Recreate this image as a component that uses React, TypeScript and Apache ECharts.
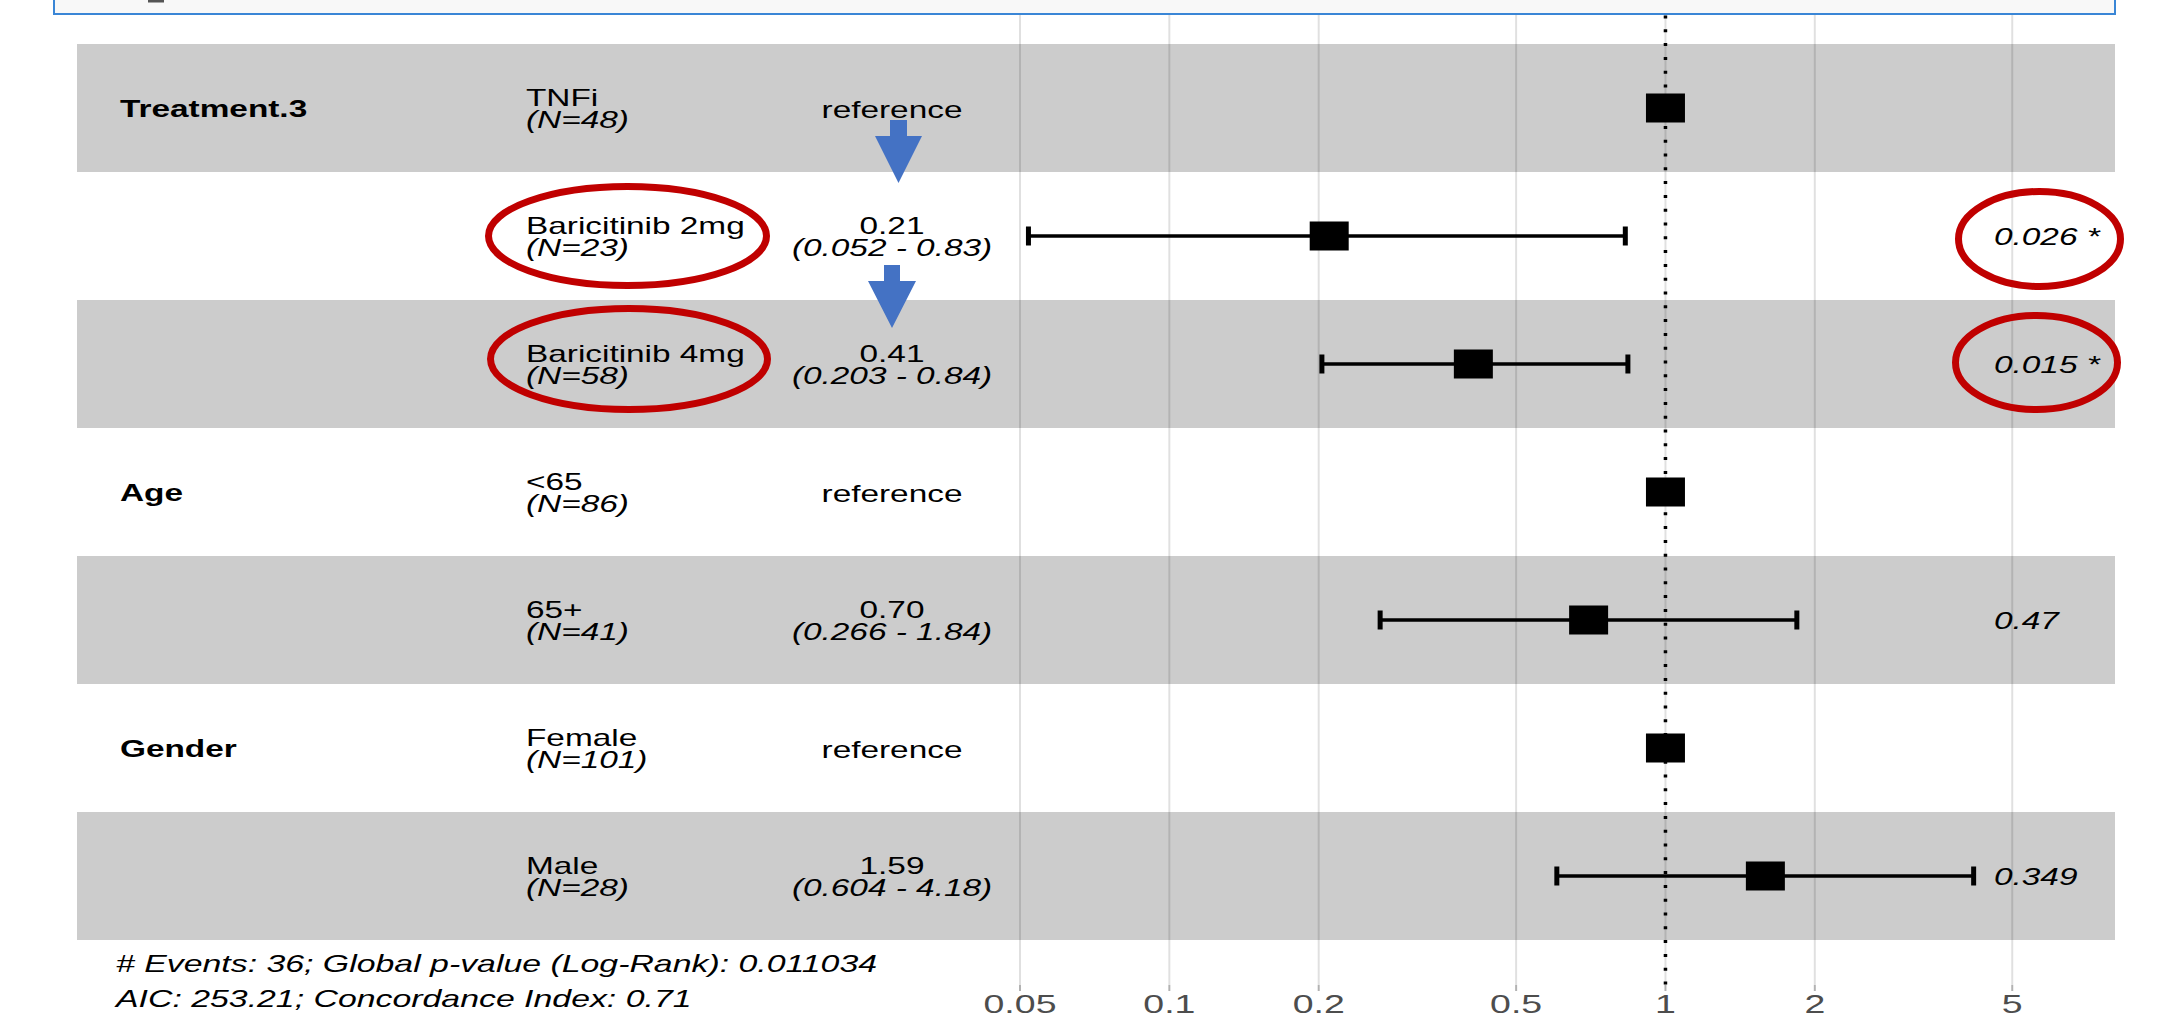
import React, { useEffect, useRef } from "react";
import * as echarts from "echarts";

// ---------- data ----------
const ROW_IDS = ["r1", "r2", "r3", "r4", "r5", "r6", "r7"];
const VAR_NAMES = ["Treatment.3", "", "", "Age", "", "Gender", ""];
const LEVELS = ["TNFi", "Baricitinib 2mg", "Baricitinib 4mg", "<65", "65+", "Female", "Male"];
const N_LABELS = ["(N=48)", "(N=23)", "(N=58)", "(N=86)", "(N=41)", "(N=101)", "(N=28)"];
const HR = [1, 0.21, 0.41, 1, 0.7, 1, 1.59];
const CI_LOW: (number | null)[] = [null, 0.052, 0.203, null, 0.266, null, 0.604];
const CI_HIGH: (number | null)[] = [null, 0.83, 0.84, null, 1.84, null, 4.18];
const HR_TEXT = ["reference", "0.21", "0.41", "reference", "0.70", "reference", "1.59"];
const CI_TEXT = ["", "(0.052 - 0.83)", "(0.203 - 0.84)", "", "(0.266 - 1.84)", "", "(0.604 - 4.18)"];
const P_TEXT = ["", "0.026 *", "0.015 *", "", "0.47", "", "0.349"];
const X_TICKS = [0.05, 0.1, 0.2, 0.5, 1, 2, 5];
const X_TICK_LABELS = ["0.05", "0.1", "0.2", "0.5", "1", "2", "5"];
const FOOTER = [
  "# Events: 36; Global p-value (Log-Rank): 0.011034",
  "AIC: 253.21; Concordance Index: 0.71",
];

// ---------- layout / style ----------
const SX = 1.39;
const FONT = "Liberation Sans";
const BAND_LEFT = 77;
const BAND_RIGHT = 2115;
const COL_VAR = 120;
const COL_LEVEL = 526;
const COL_HR = 892;
const COL_P = 1994;
const LINE_TOP = 1.7;
const PANEL_BOTTOM = 985;
const TICK_BOTTOM = 991;
const LABEL_Y = 1004;

function txt(
  x: number,
  y: number,
  text: string,
  opts: { size?: number; bold?: boolean; italic?: boolean; align?: string; color?: string; z?: number; sx?: number } = {}
) {
  const align = opts.align || "left";
  return {
    type: "text",
    x,
    y,
    scaleX: opts.sx || SX,
    scaleY: 1,
    z: opts.z,
    style: {
      text,
      fill: opts.color || "#000",
      fontFamily: FONT,
      fontSize: opts.size || 24,
      fontWeight: opts.bold ? "bold" : "normal",
      fontStyle: opts.italic ? "italic" : "normal",
      align,
      verticalAlign: "middle",
      textAlign: align,
      textVerticalAlign: "middle",
    },
  };
}

export default function App() {
  const ref = useRef<HTMLDivElement>(null);

  useEffect(() => {
    if (!ref.current) return;
    const chart = echarts.init(ref.current, undefined, { renderer: "svg" });

    const rowData = ROW_IDS.map((_, i) => [1, i]);
    const errData: number[][] = [];
    HR.forEach((_, i) => {
      if (CI_LOW[i] != null && CI_HIGH[i] != null) errData.push([CI_LOW[i] as number, i, CI_HIGH[i] as number]);
    });

    const option: any = {
      animation: false,
      backgroundColor: "#ffffff",
      grid: { left: 1020, right: 46.5, top: 44, bottom: 80, containLabel: false },
      xAxis: {
        type: "log",
        logBase: 10,
        min: 0.05,
        max: 8,
        show: false,
      },
      yAxis: {
        type: "category",
        data: ROW_IDS,
        inverse: true,
        show: false,
      },
      series: [
        {
          name: "bands",
          type: "custom",
          z: 1,
          silent: true,
          clip: false,
          data: rowData,
          renderItem: (params: any, api: any) => {
            const i = api.value(1);
            const y = api.coord([1, i])[1];
            const h = api.size([0, 1])[1];
            if (i % 2 !== 0) return { type: "group", children: [] };
            return {
              type: "rect",
              shape: { x: BAND_LEFT, y: y - h / 2, width: BAND_RIGHT - BAND_LEFT, height: h },
              style: { fill: "#cccccc" },
            };
          },
        },
        {
          name: "gridlines",
          type: "custom",
          z: 2,
          silent: true,
          clip: false,
          data: X_TICKS.map((v, k) => [v, 0, k]),
          renderItem: (params: any, api: any) => {
            const x = api.coord([api.value(0), 0])[0];
            const k = api.value(2);
            return {
              type: "group",
              children: [
                {
                  type: "line",
                  shape: { x1: x, y1: 0, x2: x, y2: PANEL_BOTTOM },
                  style: { stroke: "rgba(0,0,0,0.12)", lineWidth: 2 },
                },
                {
                  type: "line",
                  shape: { x1: x, y1: PANEL_BOTTOM, x2: x, y2: TICK_BOTTOM },
                  style: { stroke: "rgba(0,0,0,0.3)", lineWidth: 2 },
                },
                txt(x, LABEL_Y, X_TICK_LABELS[k], { size: 25, align: "center", color: "#4d4d4d", sx: 1.5 }),
              ],
            };
          },
        },
        {
          name: "errorbars",
          type: "custom",
          z: 3,
          silent: true,
          clip: false,
          data: errData,
          renderItem: (params: any, api: any) => {
            const p1 = api.coord([api.value(0), api.value(1)]);
            const p2 = api.coord([api.value(2), api.value(1)]);
            const y = p1[1];
            return {
              type: "group",
              children: [
                { type: "line", shape: { x1: p1[0], y1: y, x2: p2[0], y2: y }, style: { stroke: "#000", lineWidth: 3.5 } },
                { type: "line", shape: { x1: p1[0], y1: y - 9.5, x2: p1[0], y2: y + 9.5 }, style: { stroke: "#000", lineWidth: 5 } },
                { type: "line", shape: { x1: p2[0], y1: y - 9.5, x2: p2[0], y2: y + 9.5 }, style: { stroke: "#000", lineWidth: 5 } },
              ],
            };
          },
        },
        {
          name: "refline",
          type: "custom",
          z: 4,
          silent: true,
          clip: false,
          data: [[1, 0]],
          renderItem: (params: any, api: any) => {
            const x = api.coord([api.value(0), 0])[0];
            return {
              type: "line",
              shape: { x1: x, y1: LINE_TOP, x2: x, y2: PANEL_BOTTOM },
              style: { stroke: "#000", lineWidth: 3.5, lineDash: [3, 10.8], lineCap: "butt" },
            };
          },
        },
        {
          name: "hr",
          type: "scatter",
          z: 5,
          silent: true,
          symbol: "rect",
          symbolSize: [39, 29],
          itemStyle: { color: "#000", opacity: 1 },
          data: HR.map((v, i) => [v, i]),
        },
        {
          name: "table",
          type: "custom",
          z: 6,
          silent: true,
          clip: false,
          data: rowData,
          renderItem: (params: any, api: any) => {
            const i = api.value(1);
            const y = api.coord([1, i])[1];
            const children: any[] = [];
            if (VAR_NAMES[i]) children.push(txt(COL_VAR, y + 1, VAR_NAMES[i], { bold: true }));
            children.push(txt(COL_LEVEL, y - 10.5, LEVELS[i]));
            children.push(txt(COL_LEVEL, y + 12, N_LABELS[i], { italic: true }));
            if (CI_TEXT[i]) {
              children.push(txt(COL_HR, y - 10.5, HR_TEXT[i], { align: "center" }));
              children.push(txt(COL_HR, y + 12, CI_TEXT[i], { italic: true, align: "center" }));
            } else {
              children.push(txt(COL_HR, y + 1.5, HR_TEXT[i], { align: "center" }));
            }
            if (P_TEXT[i]) children.push(txt(COL_P, y + 1, P_TEXT[i], { italic: true }));
            return { type: "group", children };
          },
        },
      ],
      graphic: {
        elements: [
          {
            type: "rect",
            z: 100,
            shape: { x: 54, y: -20, width: 2061, height: 34 },
            style: { fill: "#f8f8f8", stroke: "#3a86d6", lineWidth: 2 },
          },
          { type: "rect", z: 101, shape: { x: 148, y: 0, width: 16, height: 2.5 }, style: { fill: "#555" } },
          { ...txt(116, 963, FOOTER[0], { italic: true, sx: 1.41 }), z: 100 },
          { ...txt(116, 998, FOOTER[1], { italic: true, sx: 1.41 }), z: 100 },
          {
            type: "polygon",
            z: 100,
            shape: { points: [[890, 120], [907, 120], [907, 136], [922, 136], [898.5, 183], [875, 136], [890, 136]] },
            style: { fill: "#4472c4" },
          },
          {
            type: "polygon",
            z: 100,
            shape: { points: [[884, 265], [900, 265], [900, 281], [916, 281], [892, 328], [868, 281], [884, 281]] },
            style: { fill: "#4472c4" },
          },
          { type: "ellipse", z: 100, shape: { cx: 627.5, cy: 236, rx: 139, ry: 49.5 }, style: { fill: "none", stroke: "#c00000", lineWidth: 7 } },
          { type: "ellipse", z: 100, shape: { cx: 629, cy: 359, rx: 138.5, ry: 50.5 }, style: { fill: "none", stroke: "#c00000", lineWidth: 7 } },
          { type: "ellipse", z: 100, shape: { cx: 2039.5, cy: 239, rx: 81, ry: 47.5 }, style: { fill: "none", stroke: "#c00000", lineWidth: 7 } },
          { type: "ellipse", z: 100, shape: { cx: 2036.5, cy: 362.5, rx: 81, ry: 47 }, style: { fill: "none", stroke: "#c00000", lineWidth: 7 } },
        ],
      },
    };

    chart.setOption(option);
    return () => chart.dispose();
  }, []);

  return (
    <div
      ref={ref}
      style={{ position: "fixed", left: 0, top: 0, width: 2160, height: 1020, background: "#fff" }}
    />
  );
}
